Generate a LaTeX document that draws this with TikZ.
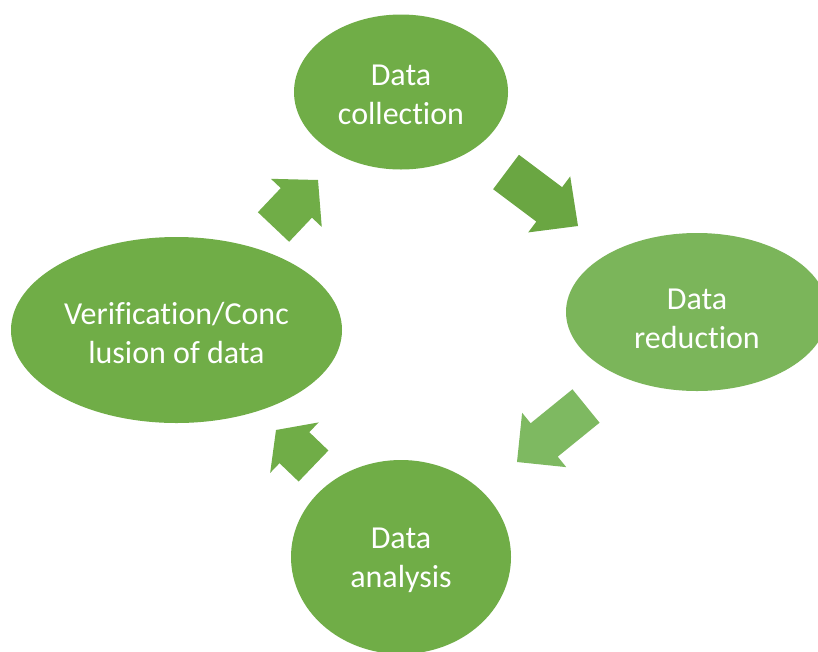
\documentclass[tikz,border=0pt]{standalone}
\usepackage{fontspec}
\setmainfont{Carlito}[Ligatures=NoCommon]
\usetikzlibrary{shapes.geometric,calc}
\definecolor{gA}{HTML}{70AD47}
\definecolor{gR}{HTML}{7BB55A}
\definecolor{gD}{HTML}{6AA642}
\definecolor{gL}{HTML}{7EB961}
\tikzset{
  bubble/.style={ellipse, draw=none, inner sep=0pt},
  txt/.style={inner sep=0pt, text=white, align=center, font=\fontsize{32}{39}\selectfont},
}
\newcommand\blockarr[4]{% tail, tip, head length, colour
  \coordinate (ba-b) at ($(#2)!#3!(#1)$);
  \fill[#4] ($(#1)!21.5pt!90:(#2)$) -- ($(ba-b)!21.5pt!90:(#2)$) -- ($(ba-b)!35pt!90:(#2)$)
    -- (#2) -- ($(ba-b)!35pt!-90:(#2)$) -- ($(ba-b)!21.5pt!-90:(#2)$) -- ($(#1)!21.5pt!-90:(#2)$) -- cycle;
}
\begin{document}
\begin{tikzpicture}[x=1pt,y=-1pt]
\useasboundingbox (0,0) rectangle (818,651);
\clip (0,0) rectangle (818,651);
\fill[white] (0,0) rectangle (818,651);
\node[bubble, fill=gA, minimum width=214pt, minimum height=155pt] (coll) at (401,92) {};
\node[bubble, fill=gR, minimum width=262pt, minimum height=158pt] (red) at (697,312) {};
\node[bubble, fill=gA, minimum width=220pt, minimum height=194pt] (ana) at (401,557) {};
\node[bubble, fill=gA, minimum width=331pt, minimum height=186pt] (ver) at (176.5,330) {};
\node[txt] (coll-t) at ($(coll.center)+(0,3)$) {Data\\collection};
\node[txt] (red-t) at ($(red.center)+(0,7)$) {Data\\reduction};
\node[txt] (ana-t) at ($(ana.center)+(0,3)$) {Data\\analysis};
\node[txt] (ver-t) at ($(ver.center)+(0,3)$) {Verification/Conc\\lusion of data};
\coordinate (a1t) at (273.5,227); \coordinate (a1h) at (318,180);
\coordinate (a2t) at (506,172);   \coordinate (a2h) at (578,226);
\coordinate (a3t) at (586,406);   \coordinate (a3h) at (517,462);
\coordinate (a4t) at (313.5,466); \coordinate (a4h) at (276,430);
\blockarr{a1t}{a1h}{31.5pt}{gA}
\blockarr{a2t}{a2h}{36pt}{gD}
\blockarr{a3t}{a3h}{35pt}{gL}
\blockarr{a4t}{a4h}{25.5pt}{gA}
\end{tikzpicture}
\end{document}
